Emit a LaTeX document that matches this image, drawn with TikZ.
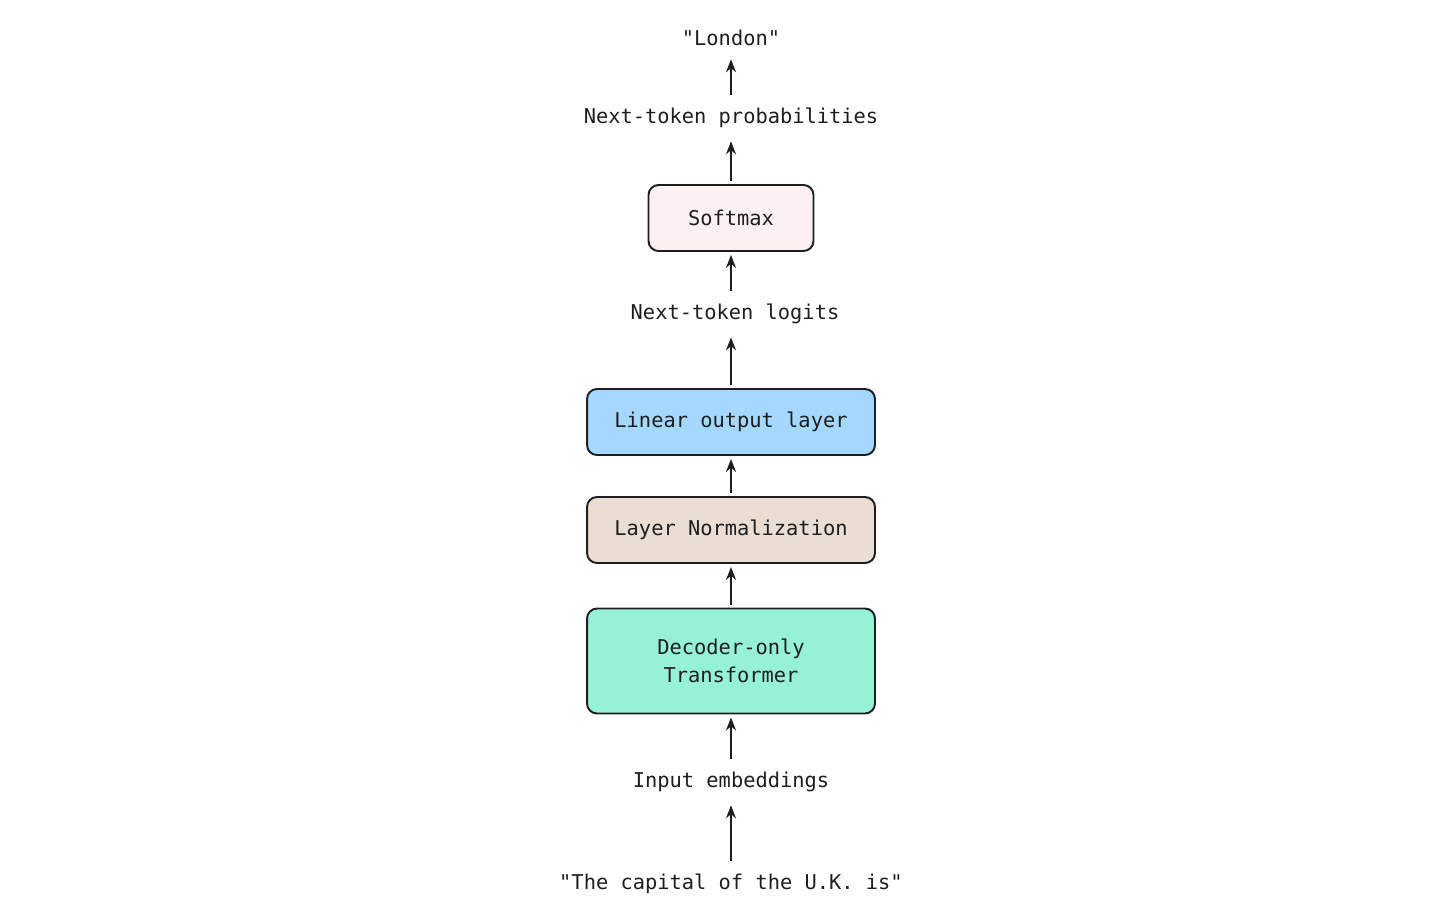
\documentclass[tikz,border=0pt]{standalone}
\usepackage{fontspec}
\setmonofont{DejaVu Sans Mono}
\usetikzlibrary{arrows.meta}
\definecolor{pinkfill}{HTML}{FCF0F3}
\definecolor{bluefill}{HTML}{A5D8FF}
\definecolor{tanfill}{HTML}{EADDD3}
\definecolor{greenfill}{HTML}{96F2D7}
\definecolor{inkline}{HTML}{1E1E1E}
\tikzset{
  lbl/.style={font=\ttfamily\fontsize{11.6}{16}\selectfont, text=inkline, inner sep=0.2cm},
  blk/.style={lbl, draw=inkline, line width=1.1pt, rounded corners=0.2cm, minimum height=1.32cm, align=center},
  flow/.style={-{Stealth[length=2.6mm,width=2mm]}, line width=1.1pt, draw=inkline, shorten >=0.06cm, shorten <=0.06cm}
}
\begin{document}
\begin{tikzpicture}[x=0.02cm,y=-0.02cm]
  \useasboundingbox (0,0) rectangle (1456,920);

  \node[lbl] (out) at (731,38) {"London"};
  \node[lbl] (probs) at (731,118) {Next-token probabilities};
  \node[blk, fill=pinkfill, minimum width=3.3cm] (softmax) at (731,218) {Softmax};
  \node[lbl] (logits) at (735,314) {Next-token logits};
  \node[blk, fill=bluefill, minimum width=5.76cm] (linear) at (731,422) {Linear output layer};
  \node[blk, fill=tanfill, minimum width=5.76cm] (norm) at (731,530) {Layer Normalization};
  \node[blk, fill=greenfill, minimum width=5.76cm, minimum height=2.1cm] (decoder) at (731,661) {Decoder-only\\Transformer};
  \node[lbl] (embed) at (731,782) {Input embeddings};
  \node[lbl] (prompt) at (731,884) {"The capital of the U.K. is"};

  \draw[flow] (probs) -- (out);
  \draw[flow] (softmax) -- (probs);
  \draw[flow] (logits.north -| softmax.south) -- (softmax);
  \draw[flow] (linear.north) -- (logits.south -| linear.north);
  \draw[flow] (norm) -- (linear);
  \draw[flow] (decoder) -- (norm);
  \draw[flow] (embed) -- (decoder);
  \draw[flow] (prompt) -- (embed);
\end{tikzpicture}
\end{document}
